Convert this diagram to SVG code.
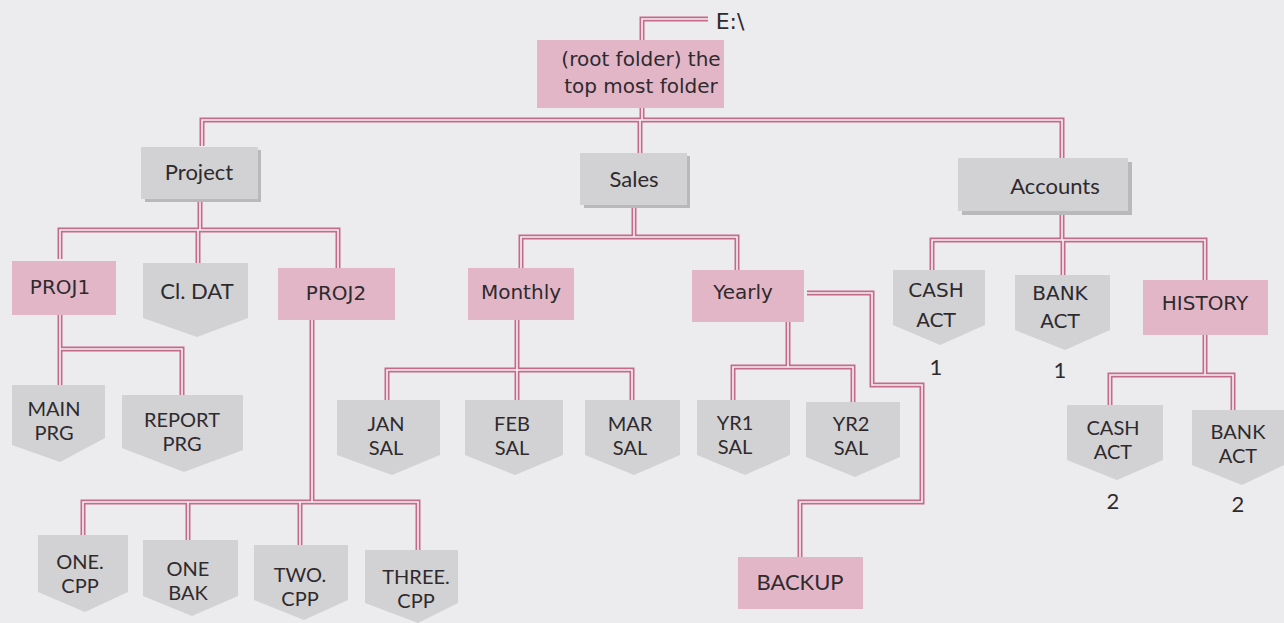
<svg xmlns="http://www.w3.org/2000/svg" xmlns:xlink="http://www.w3.org/1999/xlink" width="1284" height="623" viewBox="0 0 1284 623">
<style>
.bg{fill:#ecebee}
.pk{fill:#e2b6c7}
.gy{fill:#d2d1d3}
.sh{fill:#b9b8bb}
.lo{fill:none;stroke:#c56b8a;stroke-width:5}
.li{fill:none;stroke:#f4f2f4;stroke-width:1.6}
text{font-family:"DejaVu Sans","Liberation Sans",sans-serif;fill:#2e2a2e;text-anchor:middle;dominant-baseline:central}
.t{font-size:20px}
.e{font-size:22px}
.g{font-family:Lato,"Liberation Sans",sans-serif;font-size:20px}
.f{font-family:Lato,"Liberation Sans",sans-serif;font-size:22px}
</style>
<defs>
<g id="wires">
<path d="M642 40V19H708"/>
<path d="M642 108V120M202 146V120H1062V158M640 120V153"/>
<path d="M200 200V230M60 259V230H338V268M198 230V263"/>
<path d="M60 315V385M60 349H182V395"/>
<path d="M312 320V502M83 535V502H418V550M188 502V540M300 502V545"/>
<path d="M634 205V237M521 268V237H737V270"/>
<path d="M517 320V370M387 400V370H632V400M517 370V400"/>
<path d="M788 322V367M733 400V367H853V402"/>
<path d="M807 293H872V385H922V502H800V557"/>
<path d="M1062 212V240M932 270V240H1205V280M1063 240V275"/>
<path d="M1205 335V375M1110 405V375H1233V410"/>
</g>
</defs>
<rect class="bg" x="0" y="0" width="1284" height="623"/>
<g id="connectors">
<use xlink:href="#wires" class="lo"/>
<use xlink:href="#wires" class="li"/>
</g>
<text x="730" y="21" class="e">E:\</text>
<g id="root"><rect class="pk" x="537" y="40" width="187" height="68"/><text class="t" x="641" y="59">(root folder) the</text><text class="t" x="641" y="86">top most folder</text></g>
<g id="project"><rect class="sh" x="145" y="150" width="116" height="52"/><rect class="gy" x="141" y="147" width="117" height="52"/><text class="f" x="199" y="171">Project</text></g>
<g id="sales"><rect class="sh" x="584" y="156" width="106" height="52"/><rect class="gy" x="580" y="153" width="107" height="52"/><text class="f" x="634" y="178">Sales</text></g>
<g id="accounts"><rect class="sh" x="962" y="162" width="170" height="53"/><rect class="gy" x="958" y="158" width="170" height="53"/><text class="f" x="1055" y="185">Accounts</text></g>
<g id="proj1"><rect class="pk" x="12" y="261" width="104" height="54"/><text class="t" x="60" y="287">PROJ1</text></g>
<g id="cldat"><path class="gy" d="M143 263H248V318L197 337L143 318Z"/><text class="f" x="197" y="290">Cl. DAT</text></g>
<g id="proj2"><rect class="pk" x="278" y="268" width="117" height="52"/><text class="t" x="336" y="293">PROJ2</text></g>
<g id="mainprg"><path class="gy" d="M12 385H105V438L60 462L12 445Z"/><text class="g" x="54" y="408">MAIN</text><text class="g" x="54" y="432">PRG</text></g>
<g id="reportprg"><path class="gy" d="M122 395H243V450L184 472L122 448Z"/><text class="g" x="182" y="419">REPORT</text><text class="g" x="182" y="443">PRG</text></g>
<g id="onecpp"><path class="gy" d="M38 535H128V592L85 612L38 592Z"/><text class="g" x="80" y="561">ONE.</text><text class="g" x="80" y="585">CPP</text></g>
<g id="onebak"><path class="gy" d="M143 540H238V596L192 616L143 596Z"/><text class="g" x="188" y="568">ONE</text><text class="g" x="188" y="592">BAK</text></g>
<g id="twocpp"><path class="gy" d="M254 545H348V600L304 620L254 600Z"/><text class="g" x="300" y="574">TWO.</text><text class="g" x="300" y="598">CPP</text></g>
<g id="threecpp"><path class="gy" d="M365 550H458V603L418 623L365 603Z"/><text class="g" x="416" y="576">THREE.</text><text class="g" x="416" y="600">CPP</text></g>
<g id="monthly"><rect class="pk" x="468" y="268" width="106" height="52"/><text class="t" x="521" y="292">Monthly</text></g>
<g id="yearly"><rect class="pk" x="692" y="270" width="112" height="52"/><text class="t" x="743" y="292">Yearly</text></g>
<g id="jansal"><path class="gy" d="M337 400H440V455L392 475L337 455Z"/><text class="g" x="386" y="423">JAN</text><text class="g" x="386" y="447">SAL</text></g>
<g id="febsal"><path class="gy" d="M465 400H563V455L515 475L465 455Z"/><text class="g" x="512" y="423">FEB</text><text class="g" x="512" y="447">SAL</text></g>
<g id="marsal"><path class="gy" d="M585 400H680V455L634 475L585 455Z"/><text class="g" x="630" y="423">MAR</text><text class="g" x="630" y="447">SAL</text></g>
<g id="yr1sal"><path class="gy" d="M697 400H790V455L745 475L697 455Z"/><text class="g" x="735" y="422">YR1</text><text class="g" x="735" y="446">SAL</text></g>
<g id="yr2sal"><path class="gy" d="M806 402H900V457L855 477L806 457Z"/><text class="g" x="851" y="423">YR2</text><text class="g" x="851" y="447">SAL</text></g>
<g id="backup"><rect class="pk" x="738" y="557" width="125" height="52"/><text class="f" x="800" y="581">BACKUP</text></g>
<g id="cashact1"><path class="gy" d="M893 270H985V325L940 345L893 325Z"/><text class="t" x="936" y="290">CASH</text><text class="t" x="936" y="320">ACT</text><text class="f" x="936" y="366">1</text></g>
<g id="bankact1"><path class="gy" d="M1015 275H1110V330L1065 350L1015 330Z"/><text class="t" x="1060" y="293">BANK</text><text class="t" x="1060" y="321">ACT</text><text class="f" x="1060" y="369">1</text></g>
<g id="history"><rect class="pk" x="1143" y="280" width="125" height="55"/><text class="t" x="1205" y="303">HISTORY</text></g>
<g id="cashact2"><path class="gy" d="M1067 405H1163V460L1117 480L1067 460Z"/><text class="g" x="1113" y="427">CASH</text><text class="g" x="1113" y="451">ACT</text><text class="f" x="1113" y="500">2</text></g>
<g id="bankact2"><path class="gy" d="M1192 410H1284V465L1242 485L1192 465Z"/><text class="g" x="1238" y="431">BANK</text><text class="g" x="1238" y="455">ACT</text><text class="f" x="1238" y="503">2</text></g>
</svg>
